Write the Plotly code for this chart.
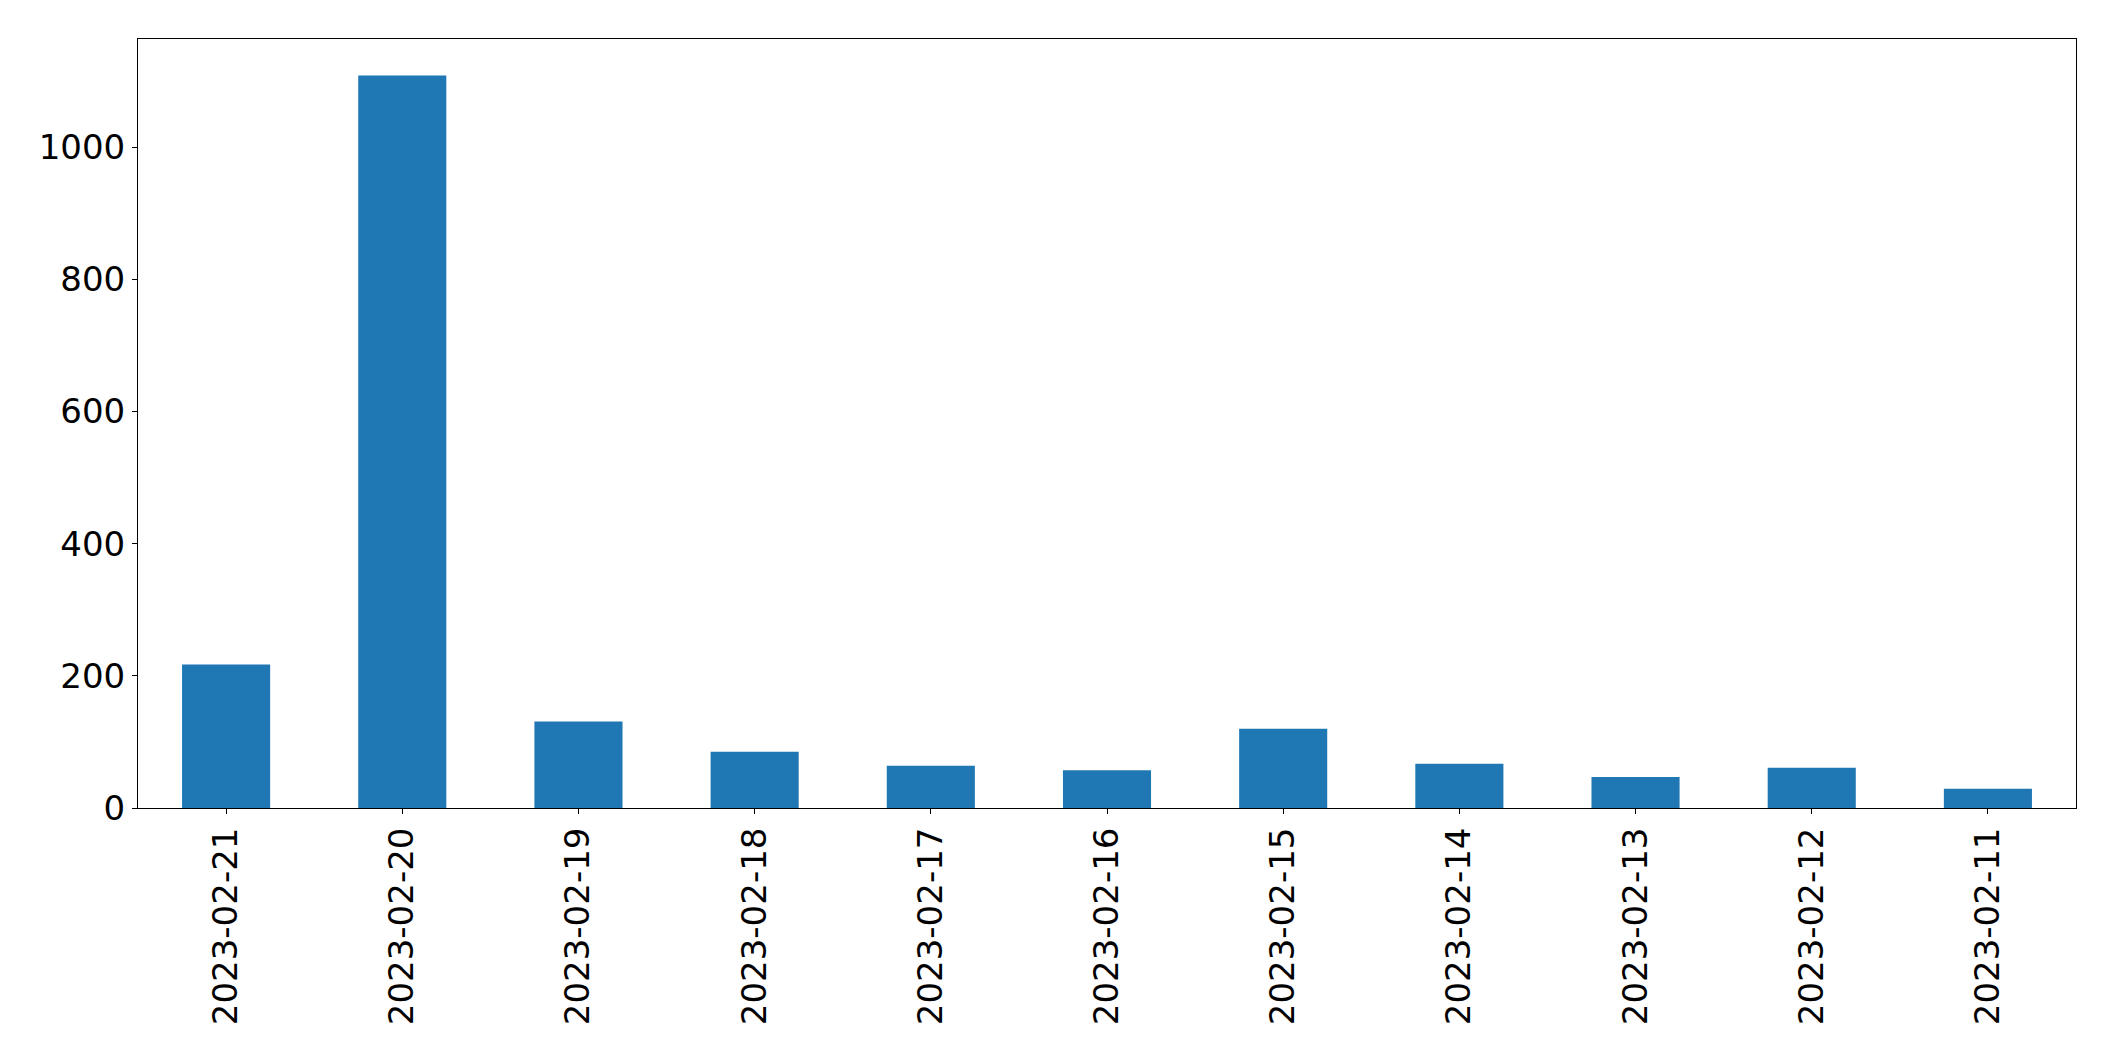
import plotly.graph_objects as go

dates = ["2023-02-21", "2023-02-20", "2023-02-19", "2023-02-18", "2023-02-17",
         "2023-02-16", "2023-02-15", "2023-02-14", "2023-02-13", "2023-02-12",
         "2023-02-11"]
counts = [217, 1108, 131, 85, 64, 57, 120, 67, 47, 61, 29]
y_ticks = [0, 200, 400, 600, 800, 1000]

fig = go.Figure(go.Bar(x=list(range(len(dates))), y=counts, marker_color="#1f77b4",
                       marker_line_width=0, width=0.5))

fig.update_layout(
    width=2115, height=1061,
    margin=dict(l=138, r=39, t=39, b=253),
    paper_bgcolor="white", plot_bgcolor="white",
    font=dict(family="DejaVu Sans", size=34, color="black"),
    showlegend=False,
)
fig.update_xaxes(
    tickmode="array", tickvals=list(range(len(dates))), ticktext=dates,
    tickangle=-90, range=[-0.5, len(dates) - 0.5],
    showline=True, mirror=True, linecolor="black", linewidth=1,
    ticks="outside", ticklen=5, tickwidth=1, tickcolor="black",
    showgrid=False, zeroline=False, ticklabelstandoff=0,
)
fig.update_yaxes(
    tickmode="array", tickvals=y_ticks, range=[0, 1163.4],
    showline=True, mirror=True, linecolor="black", linewidth=1,
    ticks="outside", ticklen=5, tickwidth=1, tickcolor="black",
    showgrid=False, zeroline=False, ticklabelstandoff=0,
)

fig.write_html("out.html")
